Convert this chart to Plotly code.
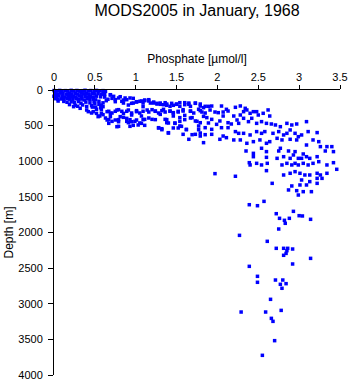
import plotly.graph_objects as go

# Phosphate profiles, MODS2005, January 1968
# Mixed layer (0-400 m)
surface_phosphate = [
    0.00, 0.03, 0.07, 0.10, 0.14, 0.17, 0.21, 0.24, 0.28, 0.31, 0.35, 0.38, 0.42, 0.45, 0.49, 0.52, 0.56, 0.60, 0.63,
    0.01, 0.04, 0.08, 0.11, 0.15, 0.19, 0.22, 0.26, 0.29, 0.33, 0.36, 0.40, 0.43, 0.47, 0.50, 0.54, 0.58,
    0.00, 0.03, 0.06, 0.10, 0.13, 0.17, 0.20, 0.24, 0.27, 0.31, 0.34, 0.38, 0.41, 0.45, 0.48, 0.52, 0.57,
    0.02, 0.05, 0.09, 0.12, 0.16, 0.19, 0.23, 0.27, 0.30, 0.34, 0.37, 0.41, 0.44, 0.48, 0.51,
    0.05, 0.12, 0.16, 0.21, 0.25, 0.30, 0.33, 0.39, 0.44, 0.49, 0.55,
    0.19, 0.26, 0.29, 0.35, 0.40, 0.46, 0.51, 0.58,
    0.24, 0.32, 0.40, 0.42, 0.48, 0.52, 0.54, 0.56, 0.58,
    0.62, 0.64, 0.60, 0.55, 0.50, 0.47, 0.62, 0.66, 0.57, 0.52,
]
surface_depth = [
    8, 14, 6, 12, 9, 16, 5, 11, 7, 15, 10, 4, 13, 8, 17, 6, 12, 9, 20,
    48, 55, 44, 52, 58, 46, 54, 49, 57, 45, 53, 50, 59, 47, 56, 51, 62,
    88, 95, 84, 92, 98, 86, 94, 90, 99, 85, 93, 89, 97, 91, 102, 87, 96,
    122, 130, 126, 134, 120, 128, 137, 124, 132, 127, 140, 123, 135, 129, 138,
    155, 160, 172, 165, 178, 162, 185, 170, 180, 168, 158,
    205, 215, 228, 210, 232, 220, 240, 212,
    234, 257, 281, 304, 304, 328, 374, 365, 328,
    100, 150, 180, 200, 190, 240, 60, 130, 250, 270,
]

# Upper thermocline (phosphate 0.45-1.9)
upper_phosphate = [
    0.69, 0.73, 0.75, 0.79, 0.83, 0.87, 0.85, 0.89, 0.93, 0.97, 1.01, 1.05, 1.09, 1.11, 1.16, 1.18,
    1.22, 1.26, 1.30, 1.34, 1.38, 1.42, 1.46, 1.50, 1.54, 1.60, 1.65, 1.67, 1.73, 1.79, 1.85, 1.89,
    0.46, 0.58, 0.60, 0.67, 0.71, 0.75, 0.79, 0.83, 0.89, 0.95, 1.01, 1.05, 1.09, 1.16, 1.20, 1.24,
    1.28, 1.32, 1.36, 1.42, 1.46, 1.52, 1.58, 1.67, 1.71, 1.79, 1.85,
    0.63, 0.67, 0.71, 0.79, 0.85, 0.89, 0.93, 0.99, 1.05, 1.09, 1.16, 1.24, 1.38, 1.40, 1.48, 1.54,
    1.60, 1.67, 1.75, 1.83, 1.89,
    0.79, 0.93, 0.97, 1.28, 1.32, 1.40, 1.46, 1.52, 1.56, 1.62, 1.69, 1.77, 1.79, 1.85,
    0.60, 0.69, 0.71, 0.75, 0.81, 0.85, 0.91, 0.95, 0.97, 1.01,
    0.60, 0.65, 0.69, 0.77, 0.85, 0.91, 0.95, 1.01,
    0.69, 0.75, 0.81, 0.89, 0.95, 1.01, 0.65, 0.67, 0.79, 0.91, 1.03, 0.77,
]
upper_depth = [
    66, 89, 136, 112, 159, 112, 183, 136, 112, 183, 169, 159, 183, 150, 136, 183,
    183, 197, 183, 206, 197, 229, 215, 197, 229, 206, 183, 229, 183, 197, 229, 229,
    323, 276, 346, 299, 323, 299, 276, 299, 299, 323, 290, 323, 299, 309, 276, 299,
    323, 290, 309, 299, 323, 299, 276, 299, 323, 290, 323,
    393, 416, 440, 416, 384, 440, 416, 440, 463, 416, 393, 416, 416, 463, 463, 440,
    416, 393, 440, 370, 463,
    510, 510, 496, 533, 557, 604, 533, 533, 510, 557, 627, 557, 604, 627,
    24, 70, 117, 164, 94, 141, 211, 187, 117, 164,
    234, 304, 328, 281, 328, 281, 351, 304,
    374, 421, 374, 398, 445, 421, 421, 468, 445, 459, 491, 515,
]

# Main thermocline (phosphate 1.05-3.4)
thermo_phosphate = [
    1.07, 1.11, 1.16, 1.22, 1.26, 1.30, 1.36, 1.38, 1.44, 1.50, 1.54, 1.60, 1.65, 1.73, 1.79, 1.83, 1.93, 2.05, 2.11,
    1.09, 1.14, 1.24, 1.34, 1.42, 1.46, 1.52, 1.58, 1.67, 1.77, 1.81, 1.91, 1.97, 2.01, 2.07, 2.13,
    1.07, 1.11, 1.20, 1.30, 1.36, 1.38, 1.46, 1.54, 1.60, 1.69, 1.73, 1.79, 1.87, 1.93, 2.03, 2.07, 2.13,
    1.07, 1.11, 1.28, 1.32, 1.40, 1.48, 1.54, 1.62, 1.77, 1.85, 1.93, 1.99, 2.05, 2.13,
    1.58, 1.65, 1.73, 1.79, 1.83, 1.93, 2.03, 2.07, 2.11,
    2.22, 2.28, 2.34, 2.32, 2.36, 2.40, 2.44, 2.48, 2.50, 2.56, 2.62, 2.64, 2.20, 2.28, 2.32,
    2.17, 2.24, 2.26, 2.42, 2.38, 2.48, 2.54, 2.60, 2.66, 2.71, 2.77, 2.85, 2.91, 2.97, 3.09,
    2.22, 2.26, 2.32, 2.40, 2.48, 2.54, 2.58, 2.68, 2.75, 2.81, 2.85, 2.89, 2.95, 3.03, 3.11, 3.22,
    2.20, 2.28, 2.36, 2.44, 2.52, 2.60, 2.64, 2.73, 2.79, 2.89, 2.97, 2.99, 3.09, 3.17, 3.24, 3.26, 3.34, 3.40,
    2.54, 2.77,
]
thermo_depth = [
    154, 140, 154, 169, 187, 201, 178, 215, 187, 201, 178, 178, 201, 187, 225, 248, 225, 225, 271,
    234, 281, 295, 271, 295, 318, 309, 295, 295, 271, 309, 281, 309, 318, 309, 295,
    365, 412, 412, 342, 412, 459, 365, 388, 356, 388, 435, 459, 388, 412, 435, 365, 459,
    468, 496, 529, 543, 599, 468, 505, 552, 505, 529, 552, 482, 529, 529,
    622, 692, 622, 646, 739, 622, 692, 646, 669,
    243, 224, 257, 304, 280, 327, 304, 304, 351, 327, 280, 365, 365, 351, 397,
    477, 421, 468, 397, 444, 468, 444, 468, 477, 491, 515, 468, 491, 477, 444,
    584, 608, 608, 631, 584, 608, 584, 608, 584, 631, 608, 561, 608, 631, 584, 598,
    701, 701, 748, 725, 701, 748, 725, 678, 701, 692, 701, 655, 772, 701, 725, 795, 795, 795,
    818, 818,
]

# Intermediate and deep water (below ~850 m)
deep_phosphate = [
    2.35, 2.44, 2.60, 2.75, 2.87, 2.95, 3.05, 3.09, 3.22, 3.32, 3.42,
    2.44, 2.60, 2.73, 2.81, 2.89, 2.93, 2.99, 3.03, 3.13,
    2.39, 2.40, 2.48, 2.54, 2.61, 2.79, 2.85, 2.91, 2.95, 2.99, 3.05, 3.11, 3.17, 3.24, 3.34, 3.42,
    2.60, 2.81, 2.89, 2.95, 3.01, 3.07, 3.13, 3.22, 3.26, 3.34, 3.46,
    3.03, 3.13, 3.22, 3.28, 2.67, 2.91, 3.01, 3.09, 3.22,
    2.87, 2.97, 3.05, 3.15, 2.99,
    1.97, 2.22,
    2.57, 2.39, 2.49, 2.93, 2.72, 2.76, 2.82, 2.88, 3.00, 3.04, 3.14, 2.83, 2.75,
    2.27, 2.61, 2.72, 2.81, 2.86, 2.92, 2.85, 2.84, 2.81, 3.14, 2.92, 2.39,
    2.49, 2.49, 2.71, 2.80, 2.77, 2.84, 2.79, 2.65, 2.29, 2.59, 2.78, 2.66, 2.68, 2.70, 2.55,
]
deep_depth = [
    856, 889, 865, 856, 856, 865, 898, 936, 936, 856, 865,
    936, 945, 959, 936, 959, 912, 959, 959, 959,
    1020, 1052, 1029, 1052, 1029, 1052, 1029, 1052, 1029, 1052, 1029, 1052, 1029, 1006, 1052, 1020,
    1132, 1193, 1169, 1146, 1169, 1193, 1193, 1169, 1193, 1169, 1113,
    1263, 1286, 1240, 1240, 1310, 1347, 1333, 1333, 1310,
    1403, 1413, 1427, 1427, 1474,
    1174, 1211,
    1563, 1610, 1624, 1703, 1736, 1801, 1829, 1801, 1764, 1768, 1815, 1871, 1951,
    2040, 2124, 2222, 2222, 2222, 2232, 2255, 2293, 2320, 2363, 2442, 2475,
    2615, 2699, 2667, 2667, 2727, 2718, 2783, 2938, 3116, 3116, 3093, 3205, 3247, 3518, 3724,
]

x_ticks = [0, 0.5, 1, 1.5, 2, 2.5, 3, 3.5]
x_tick_text = ["0", "0.5", "1", "1.5", "2", "2.5", "3", "3.5"]
y_ticks = [0, 500, 1000, 1500, 2000, 2500, 3000, 3500, 4000]

phosphate = surface_phosphate + upper_phosphate + thermo_phosphate + deep_phosphate
depth = surface_depth + upper_depth + thermo_depth + deep_depth

FONT = "Liberation Sans, Arial, Helvetica, sans-serif"

fig = go.Figure(
    go.Scatter(
        x=phosphate,
        y=depth,
        mode="markers",
        marker=dict(symbol="square", size=3.5, color="rgb(0,0,255)", line=dict(width=0)),
        cliponaxis=False,
        hoverinfo="x+y",
    )
)

axis_common = dict(
    showgrid=False,
    zeroline=False,
    showline=True,
    linecolor="black",
    linewidth=1,
    ticks="outside",
    tickcolor="black",
    tickwidth=1,
    tickfont=dict(family=FONT, size=11, color="black"),
    automargin=False,
)

fig.update_layout(
    width=350,
    height=384,
    margin=dict(l=54, r=10, t=90, b=9),
    paper_bgcolor="white",
    plot_bgcolor="white",
    showlegend=False,
    title=dict(
        text="MODS2005 in January, 1968",
        x=0.5,
        xref="paper",
        y=1 - 10 / 384,
        yref="container",
        yanchor="middle",
        font=dict(family=FONT, size=16, color="black"),
    ),
    xaxis=dict(
        axis_common,
        side="top",
        range=[0, 3.5],
        tickvals=x_ticks,
        ticktext=x_tick_text,
        ticklen=4,
        title=dict(text="Phosphate [µmol/l]", font=dict(family=FONT, size=12, color="black"), standoff=4),
    ),
    yaxis=dict(
        axis_common,
        range=[4000, 0],
        tickvals=y_ticks,
        ticklen=5,
        ticklabelstandoff=3,
        title=dict(text="Depth [m]", font=dict(family=FONT, size=12, color="black"), standoff=2),
    ),
)

fig.write_html("out.html")
